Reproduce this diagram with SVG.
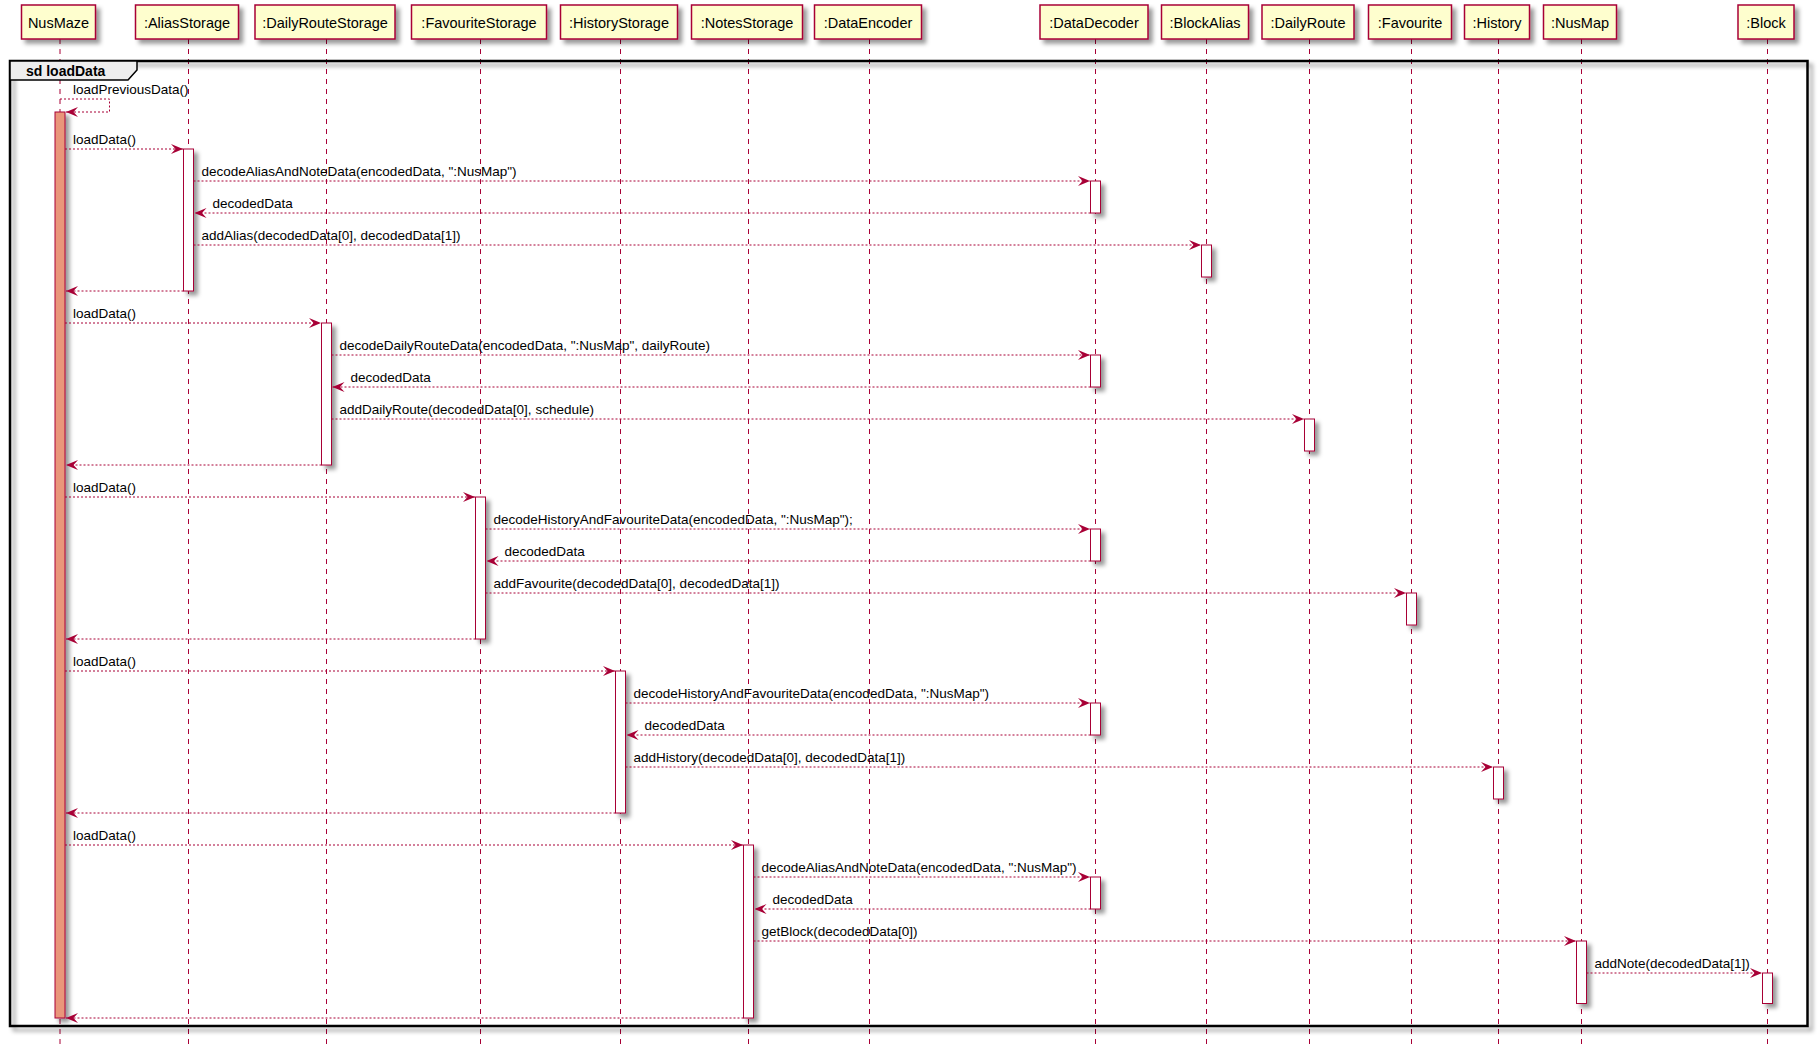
<svg xmlns="http://www.w3.org/2000/svg" width="1820" height="1050" viewBox="0 0 1820 1050">
<defs>
<filter id="sh" filterUnits="userSpaceOnUse" x="0" y="0" width="1820" height="1050">
<feGaussianBlur in="SourceAlpha" stdDeviation="2" result="b"/>
<feColorMatrix in="b" type="matrix" values="0 0 0 0 0  0 0 0 0 0  0 0 0 0 0  0 0 0 0.4 0" result="c"/>
<feOffset in="c" dx="4" dy="4" result="o"/>
<feMerge><feMergeNode in="o"/><feMergeNode in="SourceGraphic"/></feMerge>
</filter>
<marker id="ah" viewBox="0 0 12 10" refX="12" refY="5" markerWidth="12" markerHeight="10" markerUnits="userSpaceOnUse" orient="auto">
<path d="M0,0 L12,5 L0,10 L4.5,5 Z" fill="#A80036"/>
</marker>
<style>
.pbox{fill:#FEFECE;stroke:#A80036;stroke-width:1.5;filter:url(#sh)}
.plabel{font-family:"Liberation Sans",Arial,sans-serif;font-size:14.5px;fill:#000;text-anchor:middle}
.life{stroke:#A80036;stroke-width:1;stroke-dasharray:5,5;fill:none}
.bar{fill:#FFFFFF;stroke:#A80036;stroke-width:1;filter:url(#sh)}
.bar0{fill:#E9967A;stroke:#A80036;stroke-width:1;filter:url(#sh)}
.msg{stroke:#A80036;stroke-width:1;stroke-dasharray:2,2;fill:none;marker-end:url(#ah)}
.mlabel{font-family:"Liberation Sans",Arial,sans-serif;font-size:13.5px;fill:#000}
.frame{fill:none;stroke:#000;stroke-width:2.5;filter:url(#sh)}
.tab{fill:#EEEEEE;stroke:#000;stroke-width:1.5}
.ftitle{font-family:"Liberation Sans",Arial,sans-serif;font-size:14px;font-weight:bold;fill:#000}
</style>
</defs>
<rect width="1820" height="1050" fill="#FFFFFF"/>

<g id="lifelines">
<line class="life" x1="60" y1="39" x2="60" y2="1046"/>
<line class="life" x1="188.5" y1="39" x2="188.5" y2="1046"/>
<line class="life" x1="326.5" y1="39" x2="326.5" y2="1046"/>
<line class="life" x1="480.5" y1="39" x2="480.5" y2="1046"/>
<line class="life" x1="620.5" y1="39" x2="620.5" y2="1046"/>
<line class="life" x1="748.5" y1="39" x2="748.5" y2="1046"/>
<line class="life" x1="869.5" y1="39" x2="869.5" y2="1046"/>
<line class="life" x1="1095.5" y1="39" x2="1095.5" y2="1046"/>
<line class="life" x1="1206.5" y1="39" x2="1206.5" y2="1046"/>
<line class="life" x1="1309.5" y1="39" x2="1309.5" y2="1046"/>
<line class="life" x1="1411.5" y1="39" x2="1411.5" y2="1046"/>
<line class="life" x1="1498.5" y1="39" x2="1498.5" y2="1046"/>
<line class="life" x1="1581.5" y1="39" x2="1581.5" y2="1046"/>
<line class="life" x1="1767.5" y1="39" x2="1767.5" y2="1046"/>
</g>

<g id="p_NusMaze"><rect class="pbox" x="21.5" y="5" width="74" height="34"/><text class="plabel" x="58.5" y="27.5">NusMaze</text></g>
<g id="p_AliasStorage"><rect class="pbox" x="135.5" y="5" width="103" height="34"/><text class="plabel" x="187" y="27.5">:AliasStorage</text></g>
<g id="p_DailyRouteStorage"><rect class="pbox" x="255" y="5" width="140" height="34"/><text class="plabel" x="325" y="27.5">:DailyRouteStorage</text></g>
<g id="p_FavouriteStorage"><rect class="pbox" x="411.5" y="5" width="135" height="34"/><text class="plabel" x="479" y="27.5">:FavouriteStorage</text></g>
<g id="p_HistoryStorage"><rect class="pbox" x="560.5" y="5" width="117" height="34"/><text class="plabel" x="619" y="27.5">:HistoryStorage</text></g>
<g id="p_NotesStorage"><rect class="pbox" x="691.5" y="5" width="111" height="34"/><text class="plabel" x="747" y="27.5">:NotesStorage</text></g>
<g id="p_DataEncoder"><rect class="pbox" x="814.5" y="5" width="107" height="34"/><text class="plabel" x="868" y="27.5">:DataEncoder</text></g>
<g id="p_DataDecoder"><rect class="pbox" x="1040" y="5" width="108" height="34"/><text class="plabel" x="1094" y="27.5">:DataDecoder</text></g>
<g id="p_BlockAlias"><rect class="pbox" x="1161.5" y="5" width="87" height="34"/><text class="plabel" x="1205" y="27.5">:BlockAlias</text></g>
<g id="p_DailyRoute"><rect class="pbox" x="1262" y="5" width="92" height="34"/><text class="plabel" x="1308" y="27.5">:DailyRoute</text></g>
<g id="p_Favourite"><rect class="pbox" x="1368.5" y="5" width="83" height="34"/><text class="plabel" x="1410" y="27.5">:Favourite</text></g>
<g id="p_History"><rect class="pbox" x="1464.5" y="5" width="65" height="34"/><text class="plabel" x="1497" y="27.5">:History</text></g>
<g id="p_NusMap"><rect class="pbox" x="1543.5" y="5" width="73" height="34"/><text class="plabel" x="1580" y="27.5">:NusMap</text></g>
<g id="p_Block"><rect class="pbox" x="1738" y="5" width="56" height="34"/><text class="plabel" x="1766" y="27.5">:Block</text></g>

<g id="frame">
<rect class="frame" x="10" y="61" width="1797.5" height="965"/>
<path class="tab" d="M10,61 L137,61 L137,70 L128,80 L10,80 Z"/>
<text class="ftitle" x="26" y="76">sd loadData</text>
</g>

<g id="activations">
<rect class="bar0" x="55" y="112" width="10" height="906"/>
<rect class="bar" x="183.5" y="149" width="10" height="142"/>
<rect class="bar" x="1090.5" y="181" width="10" height="32"/>
<rect class="bar" x="1201.5" y="245" width="10" height="32"/>
<rect class="bar" x="321.5" y="323" width="10" height="142"/>
<rect class="bar" x="1090.5" y="355" width="10" height="32"/>
<rect class="bar" x="1304.5" y="419" width="10" height="32"/>
<rect class="bar" x="475.5" y="497" width="10" height="142"/>
<rect class="bar" x="1090.5" y="529" width="10" height="32"/>
<rect class="bar" x="1406.5" y="593" width="10" height="32"/>
<rect class="bar" x="615.5" y="671" width="10" height="142"/>
<rect class="bar" x="1090.5" y="703" width="10" height="32"/>
<rect class="bar" x="1493.5" y="767" width="10" height="32"/>
<rect class="bar" x="743.5" y="845" width="10" height="173"/>
<rect class="bar" x="1090.5" y="877" width="10" height="32"/>
<rect class="bar" x="1576.5" y="941" width="10" height="62.5"/>
<rect class="bar" x="1762.5" y="973" width="10" height="30.5"/>
</g>

<g id="connectors">
<polyline class="msg" points="60,99 109.5,99 109.5,112 66,112"/>
<text class="mlabel" x="73" y="94">loadPreviousData()</text>

<line class="msg" x1="65" y1="149" x2="183" y2="149"/>
<text class="mlabel" x="73" y="144">loadData()</text>
<line class="msg" x1="193.5" y1="181" x2="1090" y2="181"/>
<text class="mlabel" x="201.5" y="176">decodeAliasAndNoteData(encodedData, ":NusMap")</text>
<line class="msg" x1="1090.5" y1="213" x2="194.5" y2="213"/>
<text class="mlabel" x="212.5" y="208">decodedData</text>
<line class="msg" x1="193.5" y1="245" x2="1201" y2="245"/>
<text class="mlabel" x="201.5" y="240">addAlias(decodedData[0], decodedData[1])</text>
<line class="msg" x1="183.5" y1="291" x2="66" y2="291"/>

<line class="msg" x1="65" y1="323" x2="321" y2="323"/>
<text class="mlabel" x="73" y="318">loadData()</text>
<line class="msg" x1="331.5" y1="355" x2="1090" y2="355"/>
<text class="mlabel" x="339.5" y="350">decodeDailyRouteData(encodedData, ":NusMap", dailyRoute)</text>
<line class="msg" x1="1090.5" y1="387" x2="332.5" y2="387"/>
<text class="mlabel" x="350.5" y="382">decodedData</text>
<line class="msg" x1="331.5" y1="419" x2="1304" y2="419"/>
<text class="mlabel" x="339.5" y="414">addDailyRoute(decodedData[0], schedule)</text>
<line class="msg" x1="321.5" y1="465" x2="66" y2="465"/>

<line class="msg" x1="65" y1="497" x2="475" y2="497"/>
<text class="mlabel" x="73" y="492">loadData()</text>
<line class="msg" x1="485.5" y1="529" x2="1090" y2="529"/>
<text class="mlabel" x="493.5" y="524">decodeHistoryAndFavouriteData(encodedData, ":NusMap");</text>
<line class="msg" x1="1090.5" y1="561" x2="486.5" y2="561"/>
<text class="mlabel" x="504.5" y="556">decodedData</text>
<line class="msg" x1="485.5" y1="593" x2="1406" y2="593"/>
<text class="mlabel" x="493.5" y="588">addFavourite(decodedData[0], decodedData[1])</text>
<line class="msg" x1="475.5" y1="639" x2="66" y2="639"/>

<line class="msg" x1="65" y1="671" x2="615" y2="671"/>
<text class="mlabel" x="73" y="666">loadData()</text>
<line class="msg" x1="625.5" y1="703" x2="1090" y2="703"/>
<text class="mlabel" x="633.5" y="698">decodeHistoryAndFavouriteData(encodedData, ":NusMap")</text>
<line class="msg" x1="1090.5" y1="735" x2="626.5" y2="735"/>
<text class="mlabel" x="644.5" y="730">decodedData</text>
<line class="msg" x1="625.5" y1="767" x2="1493" y2="767"/>
<text class="mlabel" x="633.5" y="762">addHistory(decodedData[0], decodedData[1])</text>
<line class="msg" x1="615.5" y1="813" x2="66" y2="813"/>

<line class="msg" x1="65" y1="845" x2="743" y2="845"/>
<text class="mlabel" x="73" y="840">loadData()</text>
<line class="msg" x1="753.5" y1="877" x2="1090" y2="877"/>
<text class="mlabel" x="761.5" y="872">decodeAliasAndNoteData(encodedData, ":NusMap")</text>
<line class="msg" x1="1090.5" y1="909" x2="754.5" y2="909"/>
<text class="mlabel" x="772.5" y="904">decodedData</text>
<line class="msg" x1="753.5" y1="941" x2="1576" y2="941"/>
<text class="mlabel" x="761.5" y="936">getBlock(decodedData[0])</text>
<line class="msg" x1="1586.5" y1="973" x2="1762" y2="973"/>
<text class="mlabel" x="1594.5" y="968">addNote(decodedData[1])</text>
<line class="msg" x1="743.5" y1="1018" x2="66" y2="1018"/>
</g>
</svg>
